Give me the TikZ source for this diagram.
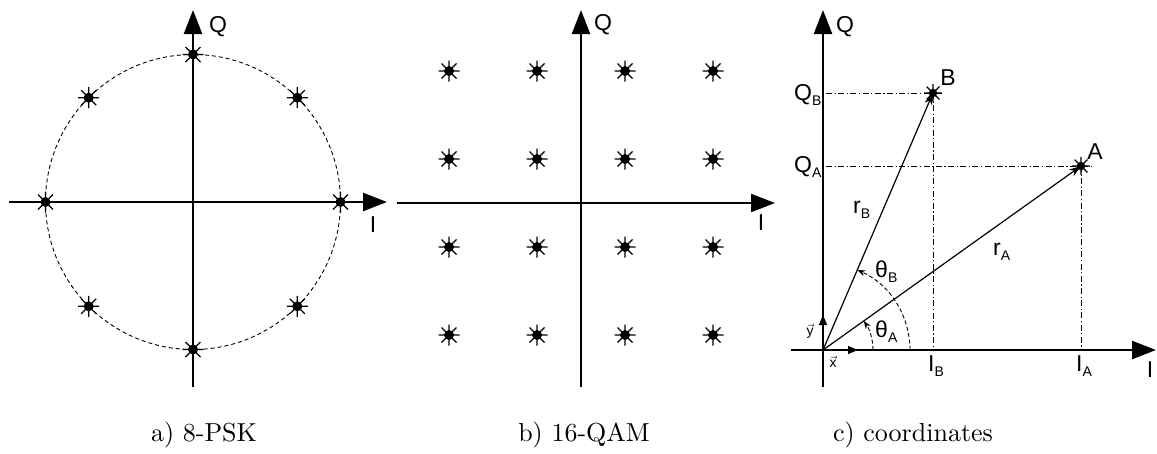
\documentclass[tikz,border=0pt]{standalone}
\usepackage{fontspec}
\newfontfamily\lab{Liberation Sans}
\usetikzlibrary{arrows.meta,calc}
% label with a lowered, smaller index
\newcommand\idx[2]{#1\raisebox{-5pt}{\fontsize{14}{14}\selectfont #2}}
\begin{document}
\begin{tikzpicture}[x=1pt,y=-1pt,
  axis/.style={line width=2.4pt,-{Triangle[length=24pt,width=18pt]}},
  thinaxis/.style={line width=2.1pt,-{Triangle[length=24pt,width=18pt]}},
  lbl/.style={font=\lab\fontsize{23}{23}\selectfont, inner sep=0},
  small/.style={font=\lab\fontsize{14}{14}\selectfont, inner sep=0},
  captxt/.style={font=\fontsize{10}{12}\selectfont, scale=2.6, inner sep=0, anchor=base},
  vecarrow/.style={line width=1.2pt,-{Stealth[length=12pt,width=8pt]}},
  unitvec/.style={line width=1.4pt,-{Triangle[length=10pt,width=8pt]}},
  anglearc/.style={line width=0.9pt, dash pattern=on 4pt off 2.5pt,-{Stealth[length=8pt,width=6pt]}},
  guide/.style={line width=0.9pt, dash pattern=on 6pt off 2.5pt on 1.2pt off 2.5pt},
  ring/.style={line width=0.9pt, dash pattern=on 4pt off 3pt},
  constpt/.pic={
    \fill (0,0) circle[radius=5pt];
    \draw[line width=1.2pt] (-10.5,0)--(10.5,0) (0,-10.5)--(0,10.5)
      (-7.5,-7.5)--(7.5,7.5) (-7.5,7.5)--(7.5,-7.5);
  }]
\useasboundingbox (0,0) rectangle (1157,453);

% ---------- a) 8-PSK ----------
\coordinate (oa) at (193,202);
\coordinate (aW) at (9,202);
\coordinate (aE) at (387,202);
\coordinate (aS) at (193,387);
\coordinate (aN) at (193,10);
\draw[ring] (oa) circle[radius=147.5];
\draw[axis] (aW) -- (aE);
\draw[axis] (aS) -- (aN);
\foreach \k in {0,...,7}
  \path (oa) ++(\k*45:147.5) pic {constpt};
\node[lbl] (qa) at (218,27) {Q};
\node[lbl] (ia) at (373,225) {I};
\node[captxt] (capa) at (204,441) {a) 8-PSK};

% ---------- b) 16-QAM ----------
\coordinate (ob) at (581,203);
\coordinate (bW) at (397,203);
\coordinate (bE) at (775,203);
\coordinate (bS) at (581,387);
\coordinate (bN) at (581,10);
\draw[thinaxis] (bW) -- (bE);
\draw[thinaxis] (bS) -- (bN);
\foreach \i in {-1.5,-0.5,0.5,1.5}
  \foreach \j in {-1.5,-0.5,0.5,1.5}
    \path (ob) ++(\i*88,\j*88) pic {constpt};
\node[lbl] (qb) at (603,25) {Q};
\node[lbl] (ib) at (761,223) {I};
\node[captxt] (capb) at (584,441) {b) 16-QAM};

% ---------- c) coordinates ----------
\coordinate (oc) at (823,350);
\coordinate (cW) at (791,350);
\coordinate (cE) at (1156,350);
\coordinate (cS) at (823,387);
\coordinate (cN) at (823,10);
\coordinate (A) at (1081,166);
\coordinate (B) at (933,93);
\coordinate (qA) at (826,166);
\coordinate (qB) at (826,93);
\coordinate (iA) at (1081,350);
\coordinate (iB) at (933,350);
\coordinate (ex) at (858,350);
\coordinate (ey) at (823,315);

\draw[guide] (qB) -- ($(B)+(10,0)$) coordinate (qBe);
\draw[guide] (qA) -- ($(A)+(11,0)$) coordinate (qAe);
\draw[guide] (B) -- (iB);
\draw[guide] (A) -- (iA);

\draw[axis] (cW) -- (cE);
\draw[axis] (cS) -- (cN);
\draw[unitvec] (oc) -- (ex);
\draw[unitvec] (oc) -- (ey);

\draw[vecarrow] (oc) -- (A);
\draw[vecarrow] (oc) -- (B);
\draw[anglearc] ($(oc)+(50,0)$) arc[start angle=0, end angle=-35.5, radius=50];
\draw[anglearc] ($(oc)+(87,0)$) arc[start angle=0, end angle=-66.8, radius=87];

\path (A) pic[scale=0.85] {constpt};
\path (B) pic[scale=0.85] {constpt};

\node[lbl] (la) at (1095,152) {A};
\node[lbl] (lb) at (948,78) {B};
\node[lbl] (qc) at (845,27) {Q};
\node[lbl] (ic) at (1150,370) {I};
\node[lbl, anchor=base west] (lqb) at (794,100) {\idx{Q}{B}};
\node[lbl, anchor=base west] (lqa) at (794,172) {\idx{Q}{A}};
\node[lbl, anchor=base west] (lib) at (928,371) {\idx{I}{B}};
\node[lbl, anchor=base west] (lia) at (1076,371) {\idx{I}{A}};
\node[lbl, anchor=base west] (lrb) at (853,213) {\idx{r}{B}};
\node[lbl, anchor=base west] (lra) at (993,255) {\idx{r}{A}};
\node[lbl, anchor=base west] (ltb) at (875,277) {\idx{θ}{B}};
\node[lbl, anchor=base west] (lta) at (875,337) {\idx{θ}{A}};
\node[small] (lx) at (833,362) {$\vec{\hbox{\lab\fontsize{14}{14}\selectfont x}}$};
\node[small] (ly) at (810,331) {$\vec{\hbox{\lab\fontsize{14}{14}\selectfont y}}$};
\node[captxt] (capc) at (913,441) {c) coordinates};
\end{tikzpicture}
\end{document}
